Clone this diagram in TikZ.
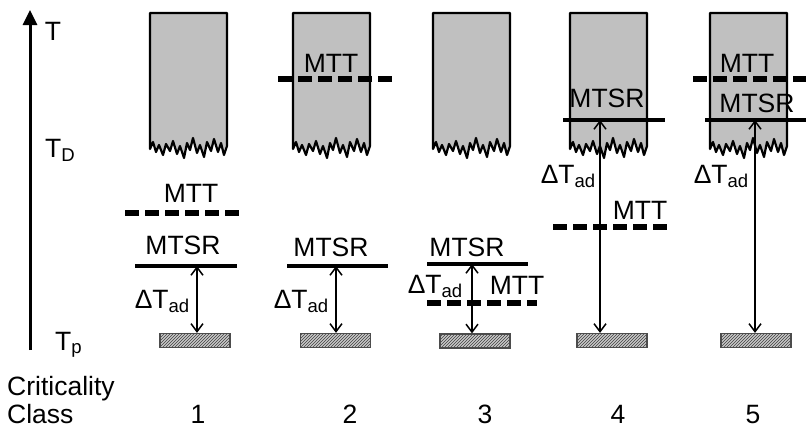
\documentclass[tikz,border=0pt]{standalone}
\usepackage{fontspec}
\setmainfont{Liberation Sans}
\usepackage{xcolor}
\usetikzlibrary{arrows.meta,patterns}
\definecolor{blockgray}{RGB}{192,192,192}
\definecolor{basegray}{RGB}{200,200,200}

\begin{document}
\begin{tikzpicture}[x=1pt, y=-1pt,
  every node/.style={font=\fontsize{26.5}{30}\selectfont, inner sep=0pt, anchor=base},
  hot/.style={draw=black, line width=2.2pt, fill=blockgray, line join=round},
  mtsr/.style={line width=4.5pt},
  mtt/.style={line width=6pt, dash pattern=on 14pt off 6pt},
  span/.style={line width=1.5pt, {Straight Barb[length=8pt,width=12pt]}-{Straight Barb[length=8pt,width=12pt]}},
  base/.style={draw=gray!60!black, line width=1.2pt, minimum width=70pt, minimum height=14pt,
    anchor=center, preaction={fill=basegray}, pattern=north east lines, pattern color=gray!50!black}]

\useasboundingbox (0,0) rectangle (806,432);

\coordinate (axbot) at (30,350);
\coordinate (axtop) at (30,10);
\draw[line width=3pt, -{Triangle[length=15pt,width=14pt]}] (axbot) -- (axtop);
\node (t) at (53,40) {T};
\node[anchor=base west] (td) at (45,157) {T\textsubscript{D}};
\node[anchor=base west] (tp) at (55,350) {T\textsubscript{p}};

\foreach \bx in {150,293,433,570,710}
  \draw[hot] (\bx,13) -- (\bx+77,13) -- (\bx+77,146)
    \foreach \dx/\dy in {74/155,71/143,68/152,64/139,61/151,57/142,54/157,50/145,47/153,43/138,40/150,37/143,34/158,30/146,27/154,23/141,20/151,16/144,13/155,9/145,6/152,3/142,0/149}
      { -- (\bx+\dx,\dy) } -- cycle;

\node[base] (p1) at (195,340.5) {};
\node[base] (p2) at (335.5,340.5) {};
\node[base] (p3) at (475,341) {};
\node[base] (p4) at (612,340.5) {};
\node[base] (p5) at (756,340.5) {};

\draw[mtt] (125,213) -- (243,213);
\node (mtt1) at (191,202) {MTT};
\draw[mtsr] (135,266) -- (237,266);
\node (mtsr1) at (183,254) {MTSR};
\coordinate (s1) at (197,266);
\draw[span] (s1) -- (s1 |- p1.north);
\node[anchor=base east] (dt1) at (190,308) {ΔT\textsubscript{ad}};

\draw[mtt] (278,79) -- (398,79);
\node (mtt2) at (331,72) {MTT};
\draw[mtsr] (287,266) -- (388,266);
\node (mtsr2) at (331,256) {MTSR};
\coordinate (s2) at (336,266);
\draw[span] (s2) -- (s2 |- p2.north);
\node[anchor=base east] (dt2) at (329,308) {ΔT\textsubscript{ad}};

\draw[mtsr] (427,264) -- (528,264);
\node (mtsr3) at (467,256) {MTSR};
\draw[mtt] (427,303) -- (537,303);
\node (mtt3) at (517,294) {MTT};
\coordinate (s3) at (472,264);
\draw[span] (s3) -- (s3 |- p3.north);
\node[anchor=base east] (dt3) at (463,293) {ΔT\textsubscript{ad}};

\draw[mtsr] (563,120) -- (665,120);
\node (mtsr4) at (607,107) {MTSR};
\draw[mtt] (553,227) -- (672,227);
\node (mtt4) at (640,219) {MTT};
\coordinate (s4) at (600,120);
\draw[span] (s4) -- (s4 |- p4.north);
\node[anchor=base east] (dt4) at (596,183) {ΔT\textsubscript{ad}};

\draw[mtt] (693,79) -- (806,79);
\node (mtt5) at (747,72) {MTT};
\draw[mtsr] (705,120) -- (806,120);
\node (mtsr5) at (757,112) {MTSR};
\coordinate (s5) at (755,120);
\draw[span] (s5) -- (s5 |- p5.north);
\node[anchor=base east] (dt5) at (749,183) {ΔT\textsubscript{ad}};

\node[anchor=base west] (crit) at (7,395) {Criticality};
\node[anchor=base west] (cls) at (7,423) {Class};
\node (c1) at (198,423) {1};
\node (c2) at (350,423) {2};
\node (c3) at (485,423) {3};
\node (c4) at (618,423) {4};
\node (c5) at (753,423) {5};

\end{tikzpicture}
\end{document}
